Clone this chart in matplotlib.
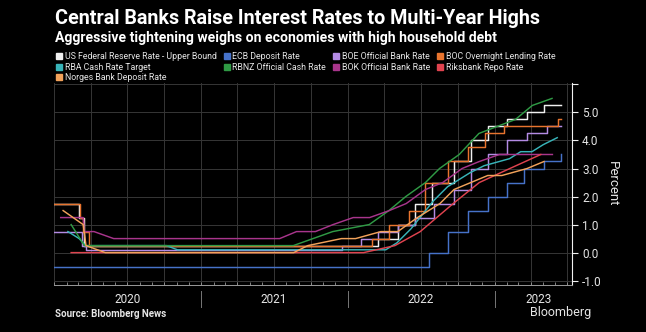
import numpy as np
import pandas as pd
import matplotlib
matplotlib.use("Agg")
import matplotlib.pyplot as plt
import matplotlib.dates as mdates
from matplotlib.lines import Line2D
from matplotlib.transforms import blended_transform_factory

plt.rcParams['font.family'] = ['Roboto', 'DejaVu Sans']

# ---- stepped series: rate in force from each date (last date = end of data)
fed_dates = ['2020-01-01', '2020-03-03', '2020-03-16', '2022-03-17', '2022-05-05', '2022-06-16',
             '2022-07-28', '2022-09-22', '2022-11-03', '2022-12-15', '2023-02-02', '2023-03-23',
             '2023-05-04', '2023-06-16']
fed_rates = [1.75, 1.25, 0.25, 0.5, 1.0, 1.75, 2.5, 3.25, 4.0, 4.5, 4.75, 5.0, 5.25, 5.25]

ecb_dates = ['2020-01-01', '2022-07-21', '2022-09-08', '2022-10-27', '2022-12-15', '2023-02-02',
             '2023-03-16', '2023-05-04', '2023-06-15', '2023-06-16']
ecb_rates = [-0.5, 0.0, 0.75, 1.5, 2.0, 2.5, 3.0, 3.25, 3.5, 3.5]

boe_dates = ['2020-01-01', '2020-03-11', '2020-03-19', '2021-12-16', '2022-02-03', '2022-03-17',
             '2022-05-05', '2022-06-16', '2022-08-04', '2022-09-22', '2022-11-03', '2022-12-15',
             '2023-02-02', '2023-03-23', '2023-05-11', '2023-06-16']
boe_rates = [0.75, 0.25, 0.1, 0.25, 0.5, 0.75, 1.0, 1.25, 1.75, 2.25, 3.0, 3.5, 4.0, 4.25, 4.5, 4.5]

boc_dates = ['2020-01-01', '2020-03-04', '2020-03-13', '2020-03-27', '2022-03-02', '2022-04-13',
             '2022-06-01', '2022-07-13', '2022-09-07', '2022-10-26', '2022-12-07', '2023-01-25',
             '2023-06-07', '2023-06-16']
boc_rates = [1.75, 1.25, 0.75, 0.25, 0.5, 1.0, 1.5, 2.5, 3.25, 3.75, 4.25, 4.5, 4.75, 4.75]

# ---- meeting-date series, drawn point to point
rba_dates = ['2020-02-04', '2020-03-03', '2020-03-19', '2020-10-06', '2020-11-03', '2022-04-05',
             '2022-05-03', '2022-06-07', '2022-07-05', '2022-08-02', '2022-09-06', '2022-10-04',
             '2022-11-01', '2022-12-06', '2023-02-07', '2023-03-07', '2023-04-04', '2023-05-02',
             '2023-06-06']
rba_rates = [0.75, 0.5, 0.25, 0.25, 0.1, 0.1, 0.35, 0.85, 1.35, 1.85, 2.35, 2.6, 2.85, 3.1,
             3.35, 3.6, 3.6, 3.85, 4.1]

rbnz_dates = ['2020-02-12', '2020-03-16', '2021-08-18', '2021-10-06', '2021-11-24', '2022-02-23',
              '2022-04-13', '2022-05-25', '2022-07-13', '2022-08-17', '2022-10-05', '2022-11-23',
              '2023-02-22', '2023-04-05', '2023-05-24']
rbnz_rates = [1.0, 0.25, 0.25, 0.5, 0.75, 1.0, 1.5, 2.0, 2.5, 3.0, 3.5, 4.25, 4.75, 5.25, 5.5]

bok_dates = ['2020-01-17', '2020-03-13', '2020-03-16', '2020-04-09', '2020-05-28', '2021-07-15',
             '2021-08-26', '2021-10-12', '2021-11-25', '2022-01-14', '2022-02-24', '2022-04-14',
             '2022-05-26', '2022-07-13', '2022-08-25', '2022-10-12', '2022-11-24', '2023-01-13',
             '2023-05-25']
bok_rates = [1.25, 1.25, 0.75, 0.75, 0.5, 0.5, 0.75, 0.75, 1.0, 1.25, 1.25, 1.5, 1.75, 2.25,
             2.5, 3.0, 3.25, 3.5, 3.5]

riks_dates = ['2020-02-12', '2022-02-09', '2022-04-28', '2022-06-30', '2022-09-20', '2022-11-24',
              '2023-02-08', '2023-04-26']
riks_rates = [0.0, 0.0, 0.25, 0.75, 1.75, 2.5, 3.0, 3.5]

norges_dates = ['2020-01-23', '2020-03-13', '2020-03-20', '2020-05-07', '2021-08-19', '2021-09-23',
                '2021-12-16', '2022-01-20', '2022-03-24', '2022-05-05', '2022-06-23', '2022-08-18',
                '2022-09-22', '2022-11-03', '2022-12-15', '2023-01-19', '2023-03-23', '2023-05-04']
norges_rates = [1.5, 1.0, 0.25, 0.0, 0.0, 0.25, 0.5, 0.5, 0.75, 0.75, 1.25, 1.75, 2.25, 2.5,
                2.75, 2.75, 3.0, 3.25]

series = [
    ("US Federal Reserve Rate - Upper Bound", fed_dates, fed_rates, '#f0f0f0', True),
    ("ECB Deposit Rate", ecb_dates, ecb_rates, '#4672c9', True),
    ("BOE Official Bank Rate", boe_dates, boe_rates, '#b48be4', True),
    ("BOC Overnight Lending Rate", boc_dates, boc_rates, '#e8742e', True),
    ("RBA Cash Rate Target", rba_dates, rba_rates, '#38b4b9', False),
    ("RBNZ Official Cash Rate", rbnz_dates, rbnz_rates, '#2f9a45', False),
    ("BOK Official Bank Rate", bok_dates, bok_rates, '#a8358c', False),
    ("Riksbank Repo Rate", riks_dates, riks_rates, '#e0434f', False),
    ("Norges Bank Deposit Rate", norges_dates, norges_rates, '#f2a25a', False),
]

year_labels = ['2020', '2021', '2022', '2023']
year_label_pos = ['2020-07-01', '2021-07-01', '2022-07-01', '2023-04-20']
year_breaks = ['2021-01-01', '2022-01-01', '2023-01-01']

bg = '#000000'
txt = '#e6e6e6'
grid = '#363636'

fig = plt.figure(figsize=(6.46, 3.32), dpi=100, facecolor=bg)
ax = fig.add_axes([0.084, 0.142, 0.801, 0.608], facecolor=bg)

handles = {}
for name, d, v, c, stepped in series:
    ax.plot(pd.to_datetime(d), v, color=c, lw=1.05,
            drawstyle='steps-post' if stepped else 'default')
    handles[name] = Line2D([], [], marker='s', ls='', color=c, markersize=4.5)

ax.set_xlim(pd.Timestamp('2020-01-01'), pd.Timestamp('2023-07-12'))
ax.set_ylim(-1.15, 6.05)

# quarterly grid, monthly small ticks on the bottom
ax.xaxis.set_major_locator(mdates.MonthLocator(bymonth=[1, 4, 7, 10]))
ax.xaxis.set_minor_locator(mdates.MonthLocator())
ax.xaxis.set_major_formatter(plt.NullFormatter())
ax.tick_params(axis='x', which='both', colors='#9a9a9a', length=2.5, width=0.6, direction='in')

ax.yaxis.tick_right()
ax.set_yticks(np.arange(-1, 7))
ax.set_yticklabels([f'{t:.1f}' if t < 6 else '' for t in np.arange(-1, 7)])
ax.tick_params(axis='y', colors='#f0f0f0', labelcolor=txt, labelsize=8.5, length=4, width=0.8)
ax.yaxis.set_label_position('right')
ax.set_ylabel('Percent', color=txt, fontsize=9.5, rotation=270, labelpad=12)

ax.grid(True, which='major', color=grid, lw=0.7)
for s in ['left', 'top']:
    ax.spines[s].set_visible(False)
ax.spines['right'].set_color('#f0f0f0')
ax.spines['bottom'].set_color('#9a9a9a')
ax.spines['bottom'].set_linewidth(0.7)

trans = blended_transform_factory(ax.transData, ax.transAxes)
for lab, pos in zip(year_labels, year_label_pos):
    ax.text(pd.Timestamp(pos), -0.075, lab, transform=trans, ha='center', va='center',
            color=txt, fontsize=8.5)
for b in year_breaks:
    x = mdates.date2num(pd.Timestamp(b))
    ax.plot([x, x], [-0.03, -0.11], transform=trans, color='#777777', lw=0.7, clip_on=False)

fig.text(0.085, 0.943, 'Central Banks Raise Interest Rates to Multi-Year Highs',
         color='white', fontsize=14.2, fontweight='bold', va='center')
fig.text(0.085, 0.886, 'Aggressive tightening weighs on economies with high household debt',
         color='white', fontsize=10.1, fontweight='bold', va='center')

order = ["US Federal Reserve Rate - Upper Bound", "RBA Cash Rate Target", "Norges Bank Deposit Rate",
         "ECB Deposit Rate", "RBNZ Official Cash Rate", "BOE Official Bank Rate",
         "BOK Official Bank Rate", "BOC Overnight Lending Rate", "Riksbank Repo Rate"]
fig.legend([handles[n] for n in order], order, loc='upper left', bbox_to_anchor=(0.08, 0.857),
           ncol=4, frameon=False, fontsize=6.3, labelcolor=txt, handlelength=0.7,
           handletextpad=0.3, columnspacing=0.8, labelspacing=0.2, borderpad=0)

fig.text(0.085, 0.055, 'Source: Bloomberg News', color=txt, fontsize=7, fontweight='bold', va='center')
fig.text(0.915, 0.06, 'Bloomberg', color=txt, fontsize=9, ha='right', va='center')

fig.savefig('out.png', dpi=100, facecolor=bg)
